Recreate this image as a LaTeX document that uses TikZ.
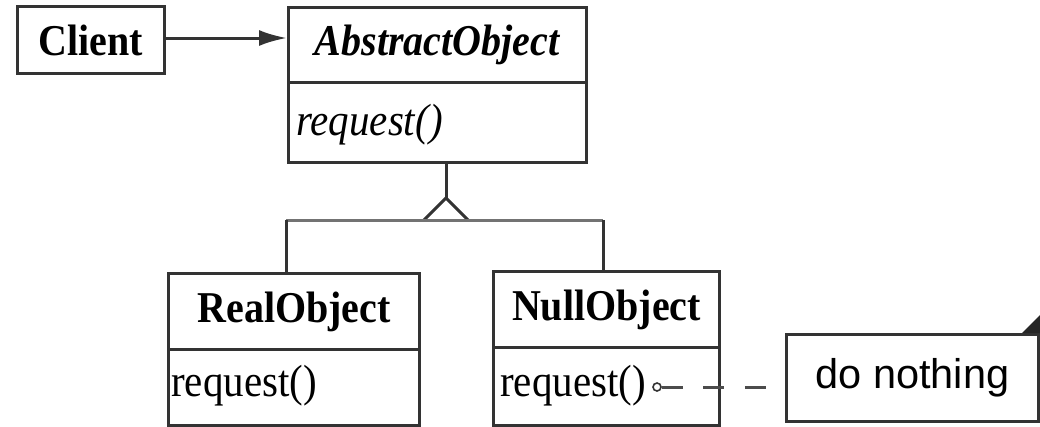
\documentclass[tikz,border=0pt]{standalone}
\usepackage{fontspec}
\usepackage{graphicx}
\setmainfont{Liberation Serif}
\newfontfamily\notefont{Liberation Sans}
\usetikzlibrary{arrows.meta}
\newcommand{\tl}[1]{\scalebox{1}[1.1]{#1}}
\begin{document}
\begin{tikzpicture}[x=1pt,y=-1pt,
  box/.style={draw=black!80, line width=3pt, inner sep=0pt, anchor=north west,
    font=\fontsize{40}{44}\selectfont},
  txt/.style={inner sep=0pt, anchor=west, font=\fontsize{41}{44}\selectfont},
  link/.style={draw=black!80, line width=3pt},
  genline/.style={draw=black!55, line width=3pt}]
\useasboundingbox (0,0) rectangle (1040,426);
% Client
\node[box, minimum width=147pt, minimum height=67pt] (client) at (16,5) {\tl{\textbf{Client}}};
% AbstractObject
\node[box, minimum width=298pt, minimum height=75pt] (abs) at (287,6) {\tl{\textbf{\textit{AbstractObject}}}};
\node[box, minimum width=298pt, minimum height=80pt] (absb) at (287,81) {};
\node[txt] (absreq) at (296,125) {\tl{\textit{request()}}};
% RealObject
\node[box, minimum width=251pt, minimum height=76pt] (real) at (167,272) {\tl{\textbf{RealObject}}};
\node[box, minimum width=251pt, minimum height=76pt] (realb) at (167,348) {};
\node[txt] (realreq) at (171,386) {\tl{request()}};
% NullObject
\node[box, minimum width=226pt, minimum height=76pt] (null) at (492,270) {\tl{\textbf{NullObject}}};
\node[box, minimum width=226pt, minimum height=78pt] (nullb) at (492,346) {};
\node[txt] (nullreq) at (500,386) {\tl{request()}};
% note
\node[box, minimum width=252pt, minimum height=87pt, font=\notefont\fontsize{41.5}{44}\selectfont] (note) at (785,333) {do nothing};
\fill[black!85] ([xshift=-18pt]note.north east) -- (note.north east) -- ([yshift=18pt]note.north east) -- cycle;
% association
\draw[link, -{Latex[length=28pt,width=16pt]}] (client.east |- 0,38) -- (abs.west |- 0,38);
% generalization
\coordinate (apex) at (446,198);
\coordinate (gl) at (286,220);
\coordinate (gr) at (603,220);
\draw[link] (absb.south -| apex) -- (apex);
\draw[link] (424,220) -- (apex) -- (468,220);
\draw[genline] (gl) -- (gr);
\draw[link] (gl) -- (gl |- real.north);
\draw[link] (gr) -- (gr |- null.north);
% note connector
\node[draw=black!80, line width=1.6pt, circle, inner sep=0pt, minimum size=8pt] (dot) at (657,387) {};
\draw[draw=black!70, line width=3pt, dash pattern=on 21pt off 20.5pt] (dot.east) -- (dot -| note.west);
\end{tikzpicture}
\end{document}
